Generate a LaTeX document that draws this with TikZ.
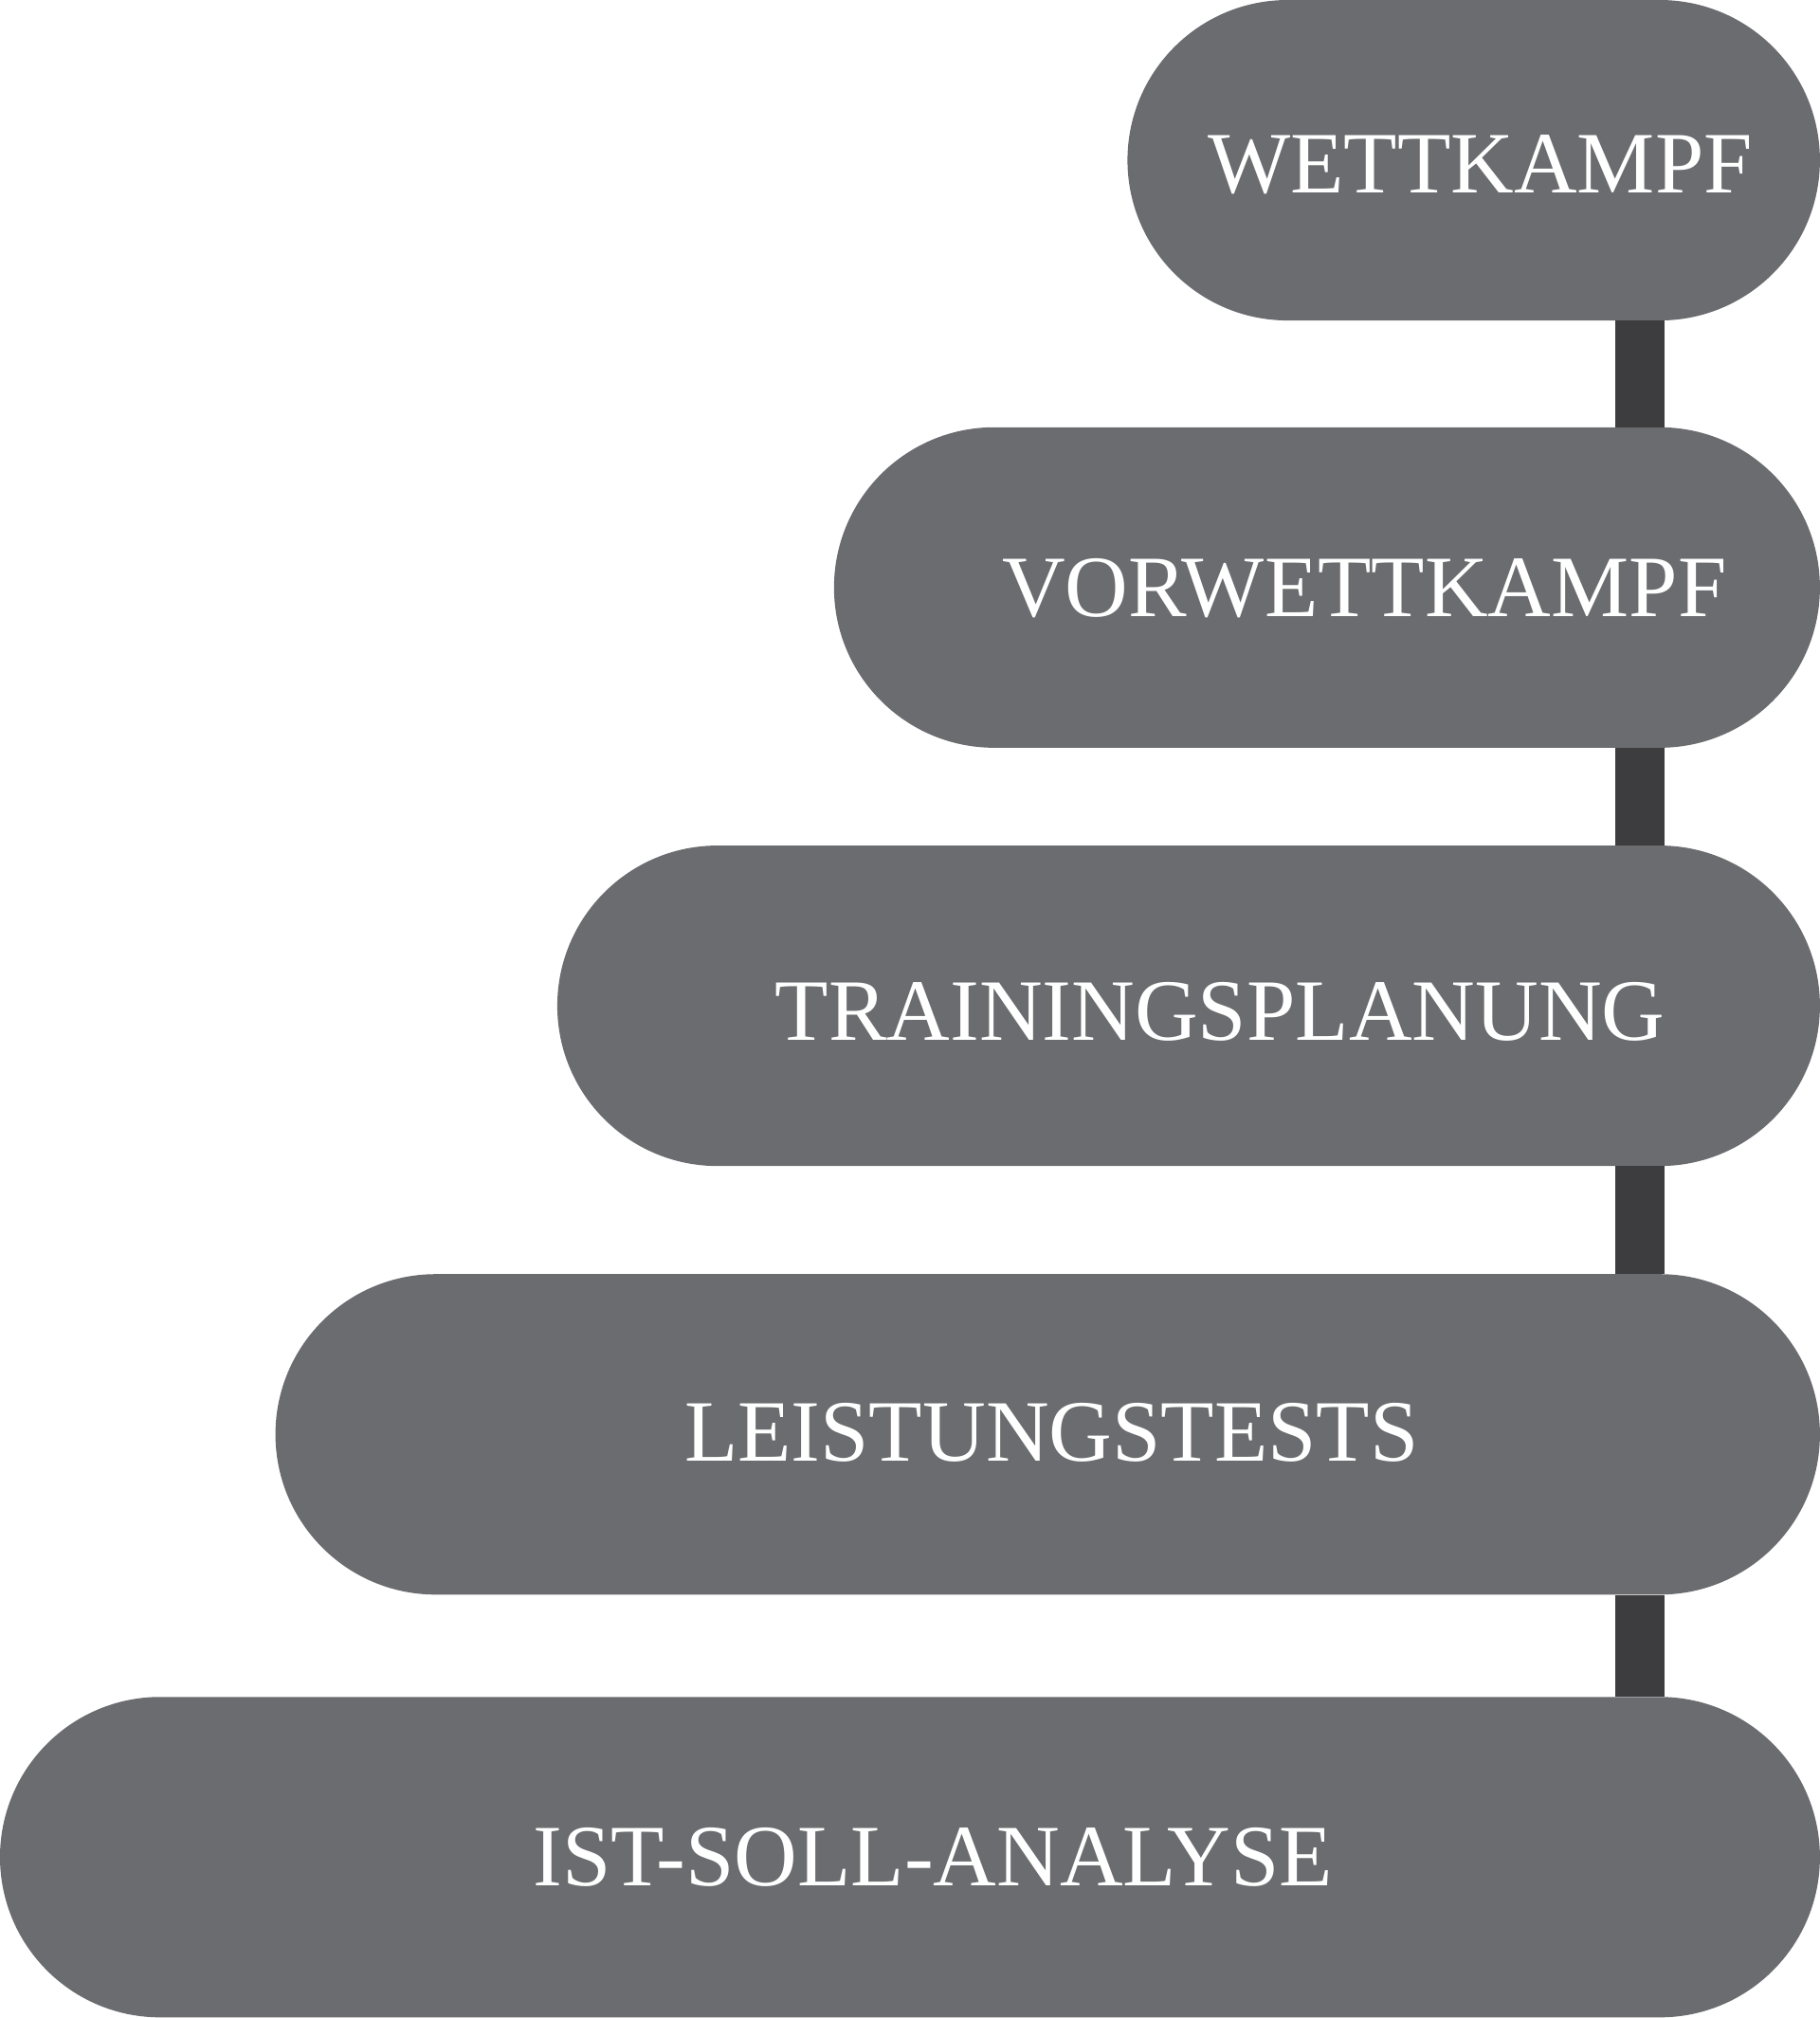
\documentclass[tikz,border=0pt]{standalone}
\usepackage{fontspec}
\setmainfont{Liberation Serif}
\usetikzlibrary{shapes.misc}
\begin{document}
\begin{tikzpicture}[x=1pt,y=1pt,
  pill/.style={rounded rectangle,fill=pillgray,draw=none,inner sep=0pt,minimum height=249pt},
  lbl/.style={text=white,font=\fontsize{68}{70}\selectfont,inner sep=0pt,anchor=base},
  bar/.style={draw=bargray,line width=38pt}]
\definecolor{pillgray}{HTML}{6B6C6F}
\definecolor{bargray}{HTML}{3D3C3E}
\useasboundingbox (0,0) rectangle (1414,-1568);
\node[pill,minimum width=538pt] (w) at (1145,-124.5) {};
\node[pill,minimum width=766pt] (v) at (1031,-456.5) {};
\node[pill,minimum width=981pt] (t) at (923.5,-781.5) {};
\node[pill,minimum width=1200pt] (l) at (814,-1114.5) {};
\node[pill,minimum width=1414pt] (i) at (707,-1443) {};
\coordinate (bx) at (1274,0);
\draw[bar] (w.south -| bx) -- (v.north -| bx);
\draw[bar] (v.south -| bx) -- (t.north -| bx);
\draw[bar] (t.south -| bx) -- (l.north -| bx);
\draw[bar] (l.south -| bx) -- (i.north -| bx);
\node[lbl] (wl) at (1150,-150) {WETTKAMPF};
\node[lbl] (vl) at (1060,-479) {VORWETTKAMPF};
\node[lbl] (tl) at (948,-808) {TRAININGSPLANUNG};
\node[lbl] (ll) at (817,-1135) {LEISTUNGSTESTS};
\node[lbl] (il) at (725,-1465) {IST-SOLL-ANALYSE};
\end{tikzpicture}
\end{document}
